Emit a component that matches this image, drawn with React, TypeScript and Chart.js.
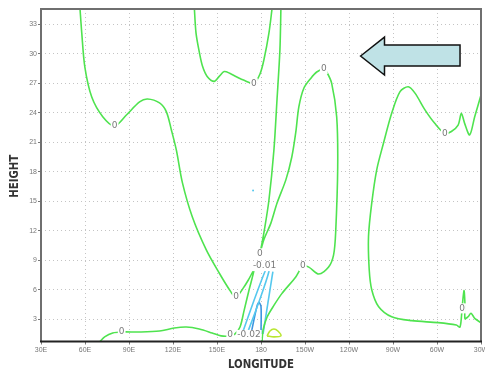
import React, { useEffect, useRef } from 'react';
import { Chart, registerables } from 'chart.js';

Chart.register(...registerables);

type P = [number, number];

// ---- axes ----
const LON_MIN = 30;
const LON_MAX = 330;
const HEIGHT_MIN = 0.73;
const HEIGHT_MAX = 34.56;
const X_TICKS = [30, 60, 90, 120, 150, 180, 210, 240, 270, 300, 330];
const X_TICK_LABELS = ['30E', '60E', '90E', '120E', '150E', '180', '150W', '120W', '90W', '60W', '30W'];
const Y_TICKS = [3, 6, 9, 12, 15, 18, 21, 24, 27, 30, 33];
const X_TITLE = 'LONGITUDE';
const Y_TITLE = 'HEIGHT';

// ---- contour lines [longitude, height] ----
const ZERO_WEST: P[] = [
  [56.5, 34.8], [57.8, 32.1], [59.9, 28.65], [64.6, 25.6], [72.1, 23.6], [80.2, 22.65],
  [88.4, 23.8], [97.2, 25.1], [102.6, 25.4], [110.8, 25.0], [115.5, 24.1], [118.9, 22.25],
  [122.3, 20.2], [126.4, 16.9], [133.2, 13.4], [142.7, 10.05], [151.5, 7.7], [159.6, 5.75],
  [163.0, 5.25], [168.5, 6.3], [171.8, 7.1], [175.2, 8.0], [171.8, 5.95], [168.5, 3.9],
  [165.7, 2.2], [162.3, 1.5], [159.0, 1.3], [152.8, 1.3], [146.7, 1.6], [137.9, 2.0],
  [129.1, 2.2], [120.9, 2.1], [110.8, 1.8], [97.2, 1.7], [85.0, 1.7], [78.9, 1.6],
  [73.4, 1.2], [70.0, 0.7],
];
const ZERO_TOP: P[] = [
  [134.5, 34.8], [135.7, 32.1], [137.9, 30.2], [140.2, 28.7], [143.3, 27.7], [148.1, 27.2],
  [151.5, 27.7], [154.9, 28.2], [159.0, 28.0], [162.8, 27.7], [168.5, 27.3], [175.2, 27.0],
  [179.3, 27.95], [182.0, 29.4], [185.4, 32.1], [187.7, 34.8],
];
const ZERO_CENTRAL: P[] = [
  [193.6, 34.8], [192.9, 30.4], [190.9, 25.3], [188.8, 20.2], [185.4, 15.1], [182.0, 11.8],
  [180.0, 10.2], [179.3, 9.7], [182.0, 11.1], [186.8, 12.8], [190.9, 14.8], [197.0, 17.2],
  [201.0, 19.5], [203.7, 22.0], [205.8, 24.6], [209.2, 26.5], [213.9, 27.5], [218.0, 28.15],
  [222.8, 28.45], [224.8, 28.15], [228.2, 27.0], [231.6, 23.6], [232.3, 18.5], [230.9, 11.8],
  [229.5, 9.55], [226.1, 8.3], [219.4, 7.6], [212.6, 8.3], [208.5, 8.4], [203.7, 7.3],
  [194.2, 5.6], [188.8, 4.4], [184.1, 3.2], [181.4, 1.9], [180.7, 0.7],
];
const ZERO_EAST: P[] = [
  [330.0, 25.8], [325.7, 23.6], [322.3, 21.75], [318.9, 22.9], [316.6, 23.95], [314.4, 22.75],
  [309.8, 22.1], [305.3, 21.9], [298.6, 22.9], [291.8, 24.3], [285.0, 26.0], [280.4, 26.65],
  [274.8, 26.15], [269.1, 23.95], [263.5, 20.9], [258.9, 18.2], [255.5, 14.8], [253.3, 11.4],
  [253.8, 8.0], [255.5, 6.0], [260.1, 4.3], [269.1, 3.25], [282.7, 2.85], [300.8, 2.65],
  [313.2, 2.4], [315.7, 2.2], [317.1, 4.1], [318.4, 5.9], [319.1, 4.4], [319.1, 3.05],
  [321.2, 3.25], [323.2, 3.6], [325.9, 3.05], [330.0, 2.65],
];
const NEG01_LOOP: P[] = [
  [167.1, 1.5], [175.2, 4.9], [182.7, 7.85], [184.1, 8.15], [185.4, 7.85], [178.2, 4.6], [170.5, 1.5],
];
const NEG01_FOLD: P[] = [
  [173.2, 1.5], [177.4, 4.4], [178.6, 4.7], [180.0, 4.3], [180.0, 1.5],
];
const NEG01_EAST: P[] = [
  [181.4, 1.5], [188.1, 7.85],
];
const NEG01_DOT: P[] = [[174.6, 16.1]];
const POS_CELL: P[] = [
  [184.1, 1.3], [186.1, 1.8], [188.8, 2.0], [191.5, 1.8], [193.6, 1.3], [188.8, 1.2], [184.1, 1.3],
];

// ---- contour labels [longitude, height, text] ----
const CONTOUR_LABELS: [number, number, string][] = [
  [80.2, 22.65, '0'], [175.2, 27.0, '0'], [222.8, 28.45, '0'], [305.3, 21.9, '0'],
  [85.0, 1.7, '0'], [163.0, 5.25, '0'], [179.3, 9.7, '0'], [182.4, 8.4, '-0.01'],
  [208.5, 8.4, '0'], [159.0, 1.4, '0'], [171.8, 1.4, '-0.02'], [317.1, 4.1, '0'],
];

// ---- annotation arrow outline [longitude, height] ----
const ARROW_SHAPE: P[] = [
  [247.9, 29.78], [264.2, 31.7], [264.2, 30.9], [315.7, 30.9],
  [315.7, 28.76], [264.2, 28.76], [264.2, 27.84],
];

const GREEN = '#4fe34f';
const CYAN = '#55c8ee';
const BLUE = '#3d95e0';
const YELLOW_GREEN = '#b9e631';
const TITLE_SQUEEZE = 0.87;

const toXY = (pts: P[]) => pts.map(([x, y]) => ({ x, y }));

const decor = {
  id: 'decor',
  afterDatasetsDraw(chart: any) {
    const { ctx, chartArea, scales } = chart;
    const xs = scales.x;
    const ys = scales.y;
    ctx.save();
    ctx.beginPath();
    ctx.rect(chartArea.left, chartArea.top, chartArea.right - chartArea.left, chartArea.bottom - chartArea.top);
    ctx.clip();
    ctx.font = '9px "DejaVu Sans", sans-serif';
    ctx.textAlign = 'center';
    ctx.textBaseline = 'middle';
    for (const [lon, h, text] of CONTOUR_LABELS) {
      const px = xs.getPixelForValue(lon);
      const py = ys.getPixelForValue(h);
      const w = ctx.measureText(text).width;
      ctx.fillStyle = '#ffffff';
      ctx.fillRect(px - w / 2 - 1, py - 5, w + 2, 10);
      ctx.fillStyle = '#7a7a7a';
      ctx.fillText(text, px, py);
    }
    ctx.restore();

    ctx.save();
    ctx.beginPath();
    ARROW_SHAPE.forEach(([lon, h], i) => {
      const px = xs.getPixelForValue(lon);
      const py = ys.getPixelForValue(h);
      if (i === 0) ctx.moveTo(px, py); else ctx.lineTo(px, py);
    });
    ctx.closePath();
    ctx.fillStyle = '#bfe2e6';
    ctx.fill();
    ctx.lineWidth = 1.5;
    ctx.strokeStyle = '#111';
    ctx.lineJoin = 'miter';
    ctx.stroke();
    ctx.restore();
  },
  afterDraw(chart: any) {
    const { ctx, chartArea: a } = chart;
    ctx.save();
    ctx.lineWidth = 2;
    ctx.strokeStyle = '#6f6f6f';
    ctx.beginPath();
    ctx.moveTo(a.left, a.bottom);
    ctx.lineTo(a.left, a.top);
    ctx.lineTo(a.right, a.top);
    ctx.lineTo(a.right, a.bottom);
    ctx.stroke();
    ctx.strokeStyle = '#222';
    ctx.beginPath();
    ctx.moveTo(a.left - 1, a.bottom);
    ctx.lineTo(a.right + 1, a.bottom);
    ctx.stroke();
    ctx.restore();

    ctx.save();
    ctx.fillStyle = '#333';
    ctx.font = 'bold 13px "Liberation Sans Narrow", "DejaVu Sans Condensed", "Liberation Sans", sans-serif';
    ctx.textAlign = 'center';
    ctx.textBaseline = 'middle';
    ctx.translate((a.left + a.right) / 2, 365);
    ctx.scale(TITLE_SQUEEZE, 1);
    ctx.fillText(X_TITLE, 0, 0);
    ctx.restore();

    ctx.save();
    ctx.fillStyle = '#333';
    ctx.font = 'bold 13px "Liberation Sans Narrow", "DejaVu Sans Condensed", "Liberation Sans", sans-serif';
    ctx.textAlign = 'center';
    ctx.textBaseline = 'middle';
    ctx.translate(15, (a.top + a.bottom) / 2 + 1);
    ctx.rotate(-Math.PI / 2);
    ctx.scale(TITLE_SQUEEZE, 1);
    ctx.fillText(Y_TITLE, 0, 0);
    ctx.restore();
  },
};

export default function App() {
  const ref = useRef<HTMLCanvasElement>(null);
  useEffect(() => {
    if (!ref.current) return;
    const line = (data: P[], color: string) => ({
      data: toXY(data),
      showLine: true,
      borderColor: color,
      backgroundColor: color,
      borderWidth: 1.6,
      pointRadius: 0,
      tension: 0.3,
      fill: false,
    });
    const chart = new Chart(ref.current, {
      type: 'scatter',
      data: {
        datasets: [
          line(ZERO_WEST, GREEN),
          line(ZERO_TOP, GREEN),
          line(ZERO_CENTRAL, GREEN),
          line(ZERO_EAST, GREEN),
          line(NEG01_LOOP, CYAN),
          line(NEG01_FOLD, BLUE),
          line(NEG01_EAST, CYAN),
          line(POS_CELL, YELLOW_GREEN),
          {
            data: toXY(NEG01_DOT),
            showLine: false,
            pointRadius: 1,
            borderWidth: 0,
            backgroundColor: CYAN,
          },
        ],
      },
      options: {
        animation: false,
        responsive: false,
        devicePixelRatio: 1,
        layout: { padding: { left: 0, top: 9, right: 2, bottom: 0 } },
        plugins: { legend: { display: false }, tooltip: { enabled: false } },
        scales: {
          x: {
            type: 'linear',
            min: LON_MIN,
            max: LON_MAX,
            afterBuildTicks: (s: any) => { s.ticks = X_TICKS.map((v) => ({ value: v })); },
            afterFit: (s: any) => { s.height = 29.5; s.paddingLeft = 0; s.paddingRight = 0; },
            ticks: {
              autoSkip: false,
              maxRotation: 0,
              padding: 1,
              color: '#777',
              font: { size: 7, family: '"Liberation Sans", sans-serif' },
              callback: (v: any) => X_TICK_LABELS[X_TICKS.indexOf(Number(v))] ?? '',
            },
            grid: { color: '#c4c4c4', lineWidth: 1, tickLength: 3, tickColor: '#777', tickWidth: 1 },
            border: { display: false, dash: [1, 3] },
          },
          y: {
            type: 'linear',
            min: HEIGHT_MIN,
            max: HEIGHT_MAX,
            afterBuildTicks: (s: any) => { s.ticks = Y_TICKS.map((v) => ({ value: v })); },
            afterFit: (s: any) => { s.width = 41; s.paddingTop = 0; s.paddingBottom = 0; },
            ticks: {
              autoSkip: false,
              padding: 1,
              color: '#777',
              font: { size: 7, family: '"Liberation Sans", sans-serif' },
              callback: (v: any) => String(v),
            },
            grid: { color: '#c4c4c4', lineWidth: 1, tickLength: 3, tickColor: '#777', tickWidth: 1 },
            border: { display: false, dash: [1, 3] },
          },
        },
      },
      plugins: [decor],
    } as any);
    return () => chart.destroy();
  }, []);
  return (
    <div style={{ position: 'fixed', left: 0, top: 0, width: 485, height: 371, background: '#fff' }}>
      <canvas ref={ref} width={485} height={371} style={{ display: 'block', width: 485, height: 371 }} />
    </div>
  );
}
